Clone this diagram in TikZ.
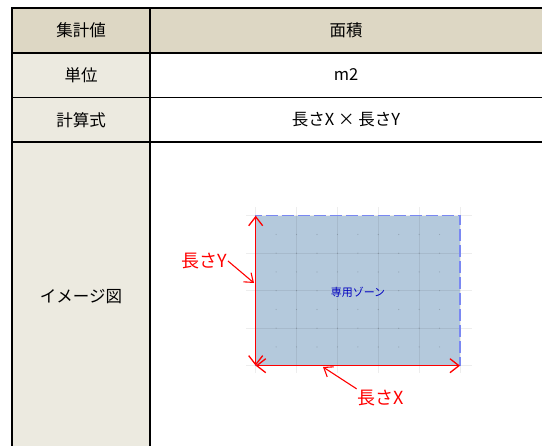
\documentclass[tikz,border=0pt]{standalone}
\usepackage{fontspec}
\setmainfont{Noto Sans CJK JP}
\usetikzlibrary{arrows.meta}
\definecolor{headbg}{HTML}{DDD7C4}
\definecolor{sidebg}{HTML}{ECEAE0}
\definecolor{zonebg}{HTML}{B4C9DC}
\definecolor{zoneline}{HTML}{7A88F2}
\tikzset{
  cell/.style={font=\fontsize{16.5}{18}\selectfont},
  redlabel/.style={text=red,font=\fontsize{18}{20}\selectfont,inner sep=1pt},
  measure/.style={red,line width=1.3pt,{Straight Barb[length=9pt,width=14pt]}-{Straight Barb[length=9pt,width=14pt]}},
  pointer/.style={red,line width=1.1pt,-{Straight Barb[length=8pt,width=12pt]}}
}
\begin{document}
\begin{tikzpicture}[x=1pt,y=-1pt]
      \useasboundingbox (0,0) rectangle (542,446);
      % table background
      \fill[headbg] (12,8) rectangle (542,53);
      \fill[sidebg] (12,53) rectangle (150,446);
      \draw[line width=1.6pt] (542,8) -- (12,8) -- (12,446);
      \draw[line width=1.6pt] (150,8) -- (150,446);
      \foreach \y in {53,97.5,142}
        \draw[line width=1.6pt] (12,\y) -- (542,\y);
      % table texts
      \node[cell] (hkey) at (81,30.5) {集計値};
      \node[cell] (hval) at (346,30.5) {面積};
      \node[cell] (ukey) at (81,75) {単位};
      \node[cell] (uval) at (346,75) {m2};
      \node[cell] (fkey) at (81,120) {計算式};
      \node[cell] (fval) at (346,120) {長さX × 長さY};
      \node[cell] (ikey) at (81,297) {イメージ図};
      % zone
      \coordinate (tl) at (255.7,215.7);
      \coordinate (tr) at (460,215.7);
      \coordinate (bl) at (255.7,365.7);
      \coordinate (br) at (460,365.7);
      \fill[zonebg] (tl) rectangle (br);
      \foreach \i in {0,...,5}
        \draw[black,opacity=0.07,line width=0.8pt] (255.7+\i*40.86,207) -- (255.7+\i*40.86,373);
      \foreach \j in {0,...,4}
        \draw[black,opacity=0.07,line width=0.8pt] (246,215.7+\j*37.5) -- (472,215.7+\j*37.5);
      \foreach \i in {1,...,9}
        \foreach \j in {1,...,7}
          \fill[black,opacity=0.18] (255.7+\i*20.43,215.7+\j*18.75) circle (0.6pt);
      \draw[zoneline,line width=1.2pt,dash pattern=on 12pt off 4pt] (bl) -- (tl) -- (tr) -- (br) -- (bl);
      \node[text=blue!75!black,font=\fontsize{11}{12}\selectfont] (zone) at (358,292) {専用ゾーン};
      % measures
      \draw[measure] (tl) -- (bl);
      \draw[measure] (bl) -- (br);
      \coordinate (ymark) at (254,283);
      \coordinate (xmark) at (323,367);
      \node[redlabel] (leny) at (204,261) {長さY};
      \node[redlabel] (lenx) at (381,398) {長さX};
      \draw[pointer] (leny.east) -- (ymark);
      \draw[pointer] (lenx.north west) -- (xmark);
    \end{tikzpicture}
\end{document}
